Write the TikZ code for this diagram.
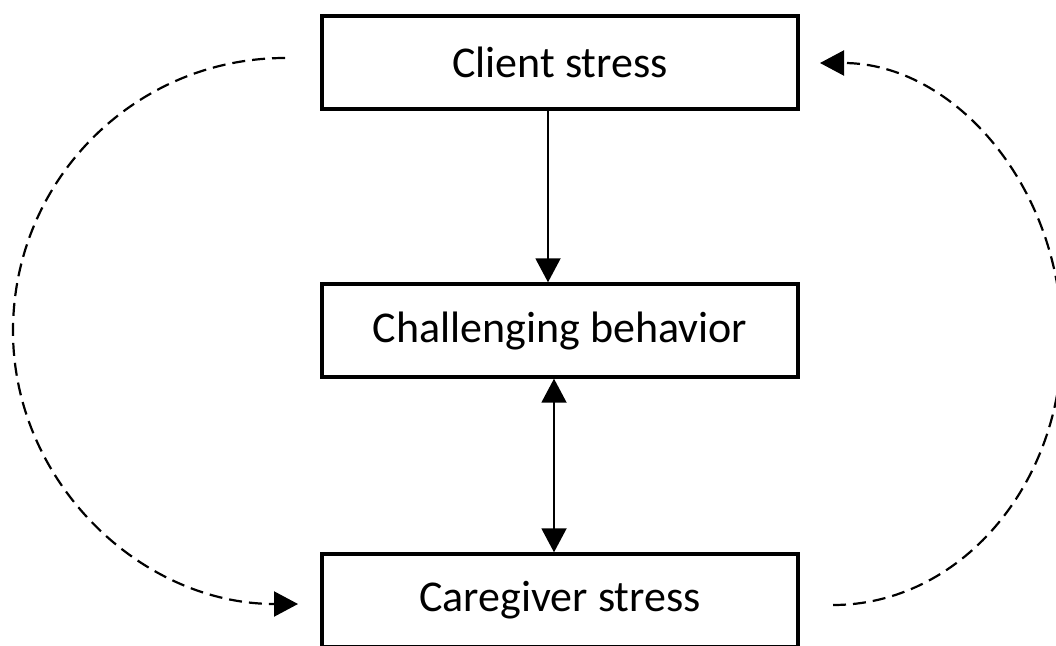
\documentclass[tikz,border=0pt]{standalone}
\usepackage{fontspec}
\setmainfont{Carlito}
\usetikzlibrary{arrows.meta}
\tikzset{
  box/.style={draw=black, line width=3.4pt, minimum width=476pt, minimum height=93pt, inner sep=0pt,
    font=\fontsize{44}{52}\selectfont, anchor=center},
  tip/.style={Triangle[width=25pt,length=24pt]},
  conn/.style={line width=1.9pt, -{Triangle[width=25pt,length=24pt]}},
  biconn/.style={line width=1.9pt, {Triangle[width=25pt,length=24pt]}-{Triangle[width=25pt,length=24pt]}},
  dashconn/.style={line width=2.2pt, dash pattern=on 13pt off 7pt, -{Triangle[width=25pt,length=24pt]}}
}
\begin{document}
\begin{tikzpicture}[x=1pt,y=-1pt]
\useasboundingbox (0,0) rectangle (1056,645);
\fill[white] (0,0) rectangle (1056,645);
\clip (0,0) rectangle (1056,645);
\node[box] (cs) at (560,62.5) {Client stress};
\node[box] (cb) at (560,330.5) {Challenging behavior};
\node[box] (cg) at (560,600.5) {Caregiver stress};
\coordinate (ls) at (285,58);
\coordinate (le) at (298,604);
\coordinate (rs) at (833,605);
\coordinate (re) at (820,63);
\draw[conn] ([xshift=-12pt]cs.south) -- ([xshift=-12pt]cb.north);
\draw[biconn] ([xshift=-6pt]cb.south) -- ([xshift=-6pt]cg.north);
\draw[dashconn] (ls) .. controls (135,58) and (13,180) .. (13,331)
  .. controls (13,482) and (141,604) .. (le);
\draw[dashconn] (rs) .. controls (959,605) and (1062,486) .. (1062,340)
  .. controls (1062,187) and (954,63) .. (re);
\end{tikzpicture}
\end{document}
